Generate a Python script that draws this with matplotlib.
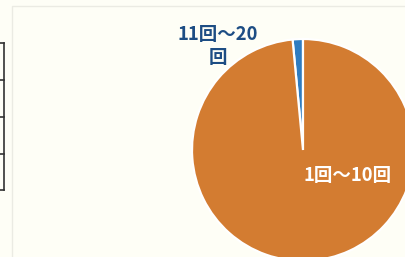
import matplotlib
matplotlib.use("Agg")
import matplotlib.pyplot as plt

plt.rcParams['font.family'] = ['Noto Sans CJK JP', 'DejaVu Sans']

# share of respondents by count range
labels = ["11回～20\n回", "1回～10回"]
values = [1.5, 98.5]
colors = ["#2f7cc0", "#d37c31"]

W, H = 406, 257
fig = plt.figure(figsize=(W / 100, H / 100), dpi=100)
fig.patch.set_facecolor("#fefef6")
ax = fig.add_axes([0, 0, 1, 1])

# y axis is inverted, so counterclock=False draws anticlockwise on screen
wedges, _ = ax.pie(values, colors=colors, startangle=-90, counterclock=False,
                   center=(303, 150), radius=111, frame=True,
                   wedgeprops=dict(edgecolor="white", linewidth=1.6))
ax.set_xlim(0, W)
ax.set_ylim(H, 0)
ax.axis("off")

# frame of the chart panel and the edge of the neighbouring table
ax.plot([12.5, 12.5, W], [H, 5.5, 5.5], color="#ebebe3", lw=1.0)
for y in [43, 80, 117, 154, 190]:
    ax.plot([0, 4.5], [y, y], color="#333333", lw=1.2)
ax.plot([4.5, 4.5], [43, 190], color="#333333", lw=1.2)

ax.text(218, 46, labels[0], color="#1d4d84", fontsize=13.3, fontweight="bold",
        ha="center", va="center", linespacing=1.3)
ax.text(348, 176, labels[1], color="white", fontsize=13.3, fontweight="bold",
        ha="center", va="center")

fig.savefig("out.png", dpi=100, facecolor=fig.get_facecolor())
